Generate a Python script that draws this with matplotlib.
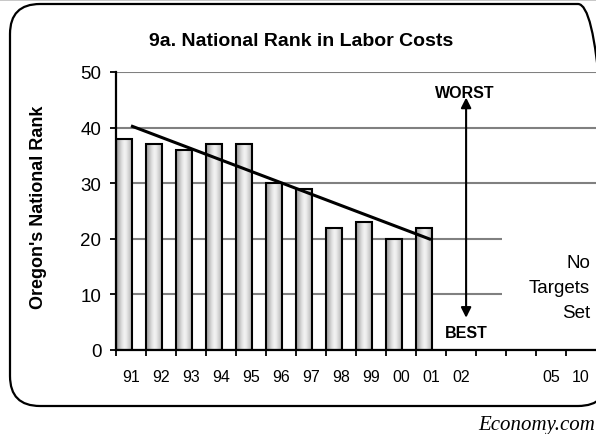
import numpy as np
import matplotlib
matplotlib.use("Agg")
import matplotlib.pyplot as plt
from matplotlib.patches import FancyBboxPatch, Rectangle
from matplotlib.transforms import IdentityTransform

plt.rcParams["font.family"] = ["Liberation Sans", "DejaVu Sans"]

# data
years = ["91", "92", "93", "94", "95", "96", "97", "98", "99", "00", "01",
         "02", "", "", "05", "10"]
ranks = [38, 37, 36, 37, 37, 30, 29, 22, 23, 20, 22]

W, H = 596, 435
fig = plt.figure(figsize=(W / 100, H / 100), dpi=100)

# thin grey strip at top and rounded frame
fig.patches.append(Rectangle((0, H - 2), W, 2, transform=IdentityTransform(),
                             facecolor="#c8c8c8", edgecolor="none", zorder=-2))
frame = FancyBboxPatch((10, 28), 598, 402, boxstyle="round,pad=0,rounding_size=30",
                       transform=IdentityTransform(), facecolor="none",
                       edgecolor="black", linewidth=1.6, zorder=-1)
fig.patches.append(frame)

ax = fig.add_axes([116 / W, 1 - 351 / H, 480 / W, (351 - 73) / H])
ax.set_facecolor("none")

n = len(years)

# cylinder-like grey shading for bars
shade = np.array([0.62, 0.70, 0.78, 0.86, 0.92, 0.95, 0.92, 0.86, 0.80, 0.72])
grad = np.tile(shade, (2, 1))
bw = 16 / 30
for i, r in enumerate(ranks):
    x0 = i - 0.5
    ax.imshow(grad, cmap="gray", vmin=0, vmax=1, aspect="auto",
              extent=(x0, x0 + bw, 0, r), zorder=2, interpolation="bilinear")
    ax.add_patch(Rectangle((x0, 0), bw, r, facecolor="none", edgecolor="black",
                           linewidth=1.5, zorder=3))
ax.set_xlim(-0.5, n - 0.5)
ax.set_ylim(0, 50)

# trend line (linear fit of the ranks)
xs = np.arange(len(ranks))
k, b = np.polyfit(xs, ranks, 1)
ax.plot([xs[0], xs[-1]], [k * xs[0] + b, k * xs[-1] + b], color="black",
        linewidth=2.2, zorder=4, solid_capstyle="butt")

ax.yaxis.grid(True, color="#808080", linewidth=1.5, zorder=0)
ax.set_axisbelow(True)
# blank area behind the "No Targets Set" note
ax.add_patch(Rectangle((12.37, 1.5), 3.5, 25, facecolor="white", edgecolor="none",
                       zorder=1, clip_on=False))

ax.text(15.3, 11.3, "No\nTargets\nSet", ha="right", va="center", fontsize=13.5,
        linespacing=1.62, zorder=5)

ax.annotate("", xy=(11.17, 45.4), xytext=(11.17, 5.8),
            arrowprops=dict(arrowstyle="<|-|>", color="black", lw=1.5,
                            mutation_scale=15, shrinkA=0, shrinkB=0), zorder=5)
ax.text(11.13, 46.4, "WORST", ha="center", va="center", fontsize=11.5,
        fontweight="bold", zorder=6)
ax.text(11.17, 3.2, "BEST", ha="center", va="center", fontsize=11.5,
        fontweight="bold", zorder=6)

for s in ["top", "right"]:
    ax.spines[s].set_visible(False)
for s in ["left", "bottom"]:
    ax.spines[s].set_linewidth(1.6)
    ax.spines[s].set_zorder(6)

ax.set_yticks([0, 10, 20, 30, 40, 50])
ax.tick_params(axis="y", direction="out", length=4.5, width=1.3, labelsize=13.5, pad=6)
ax.set_xticks(np.arange(n))
ax.set_xticklabels(years)
ax.set_xticks(np.arange(n) - 0.5, minor=True)
ax.tick_params(axis="x", which="major", length=0, labelsize=11.5, pad=14)
ax.tick_params(axis="x", which="minor", direction="out", length=4.5, width=1.3)

fig.text(301 / W, 1 - 42 / H, "9a. National Rank in Labor Costs", ha="center",
         va="center", fontsize=14, fontweight="bold")
fig.text(39 / W, 1 - 207 / H, "Oregon's National Rank", rotation=90, ha="center",
         va="center", fontsize=13, fontweight="bold")
fig.text(595 / W, 1 - 426 / H, "Economy.com", ha="right", va="center",
         fontsize=15, style="italic", family=["Liberation Serif", "DejaVu Serif"])

fig.savefig("out.png", dpi=100)
